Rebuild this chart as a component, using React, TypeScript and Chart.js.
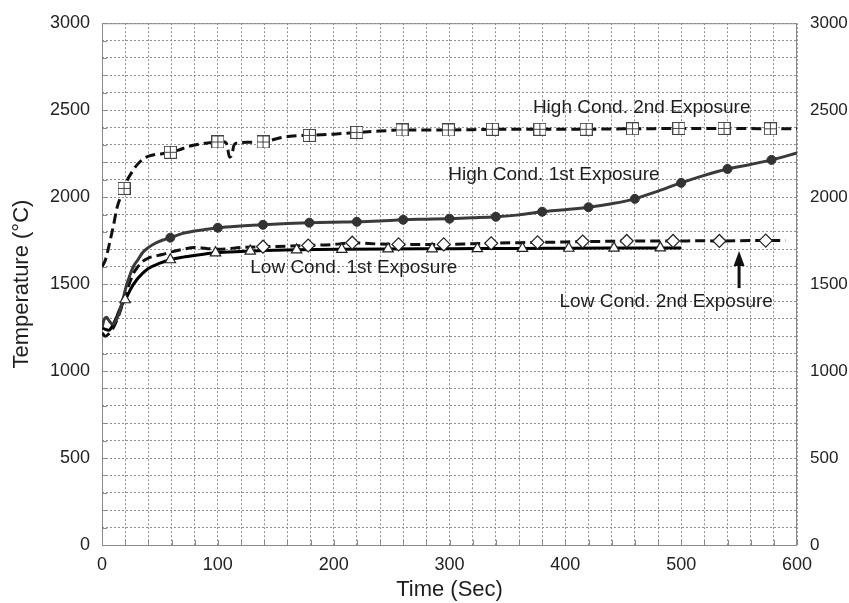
import { useEffect, useRef } from 'react';
import { Chart, registerables } from 'chart.js';

Chart.register(...registerables);

const FONT = "'Liberation Sans', Arial, Helvetica, sans-serif";

// Time (s) / temperature (°C) – High Cond. 2nd Exposure (dashed, square markers)
const high2X = [0, 3, 7, 10, 13, 16, 19, 22, 25, 29, 33, 37, 41, 46, 52, 59, 66, 74, 84, 92, 100, 105, 108, 110, 112, 114, 118, 125, 139, 153, 165, 179, 200, 220, 240, 259, 280, 299, 320, 337, 360, 378, 400, 418, 440, 458, 480, 498, 520, 537, 560, 577, 600];
const high2Y = [1600, 1640, 1750, 1840, 1940, 2000, 2050, 2100, 2135, 2175, 2205, 2225, 2237, 2245, 2250, 2258, 2270, 2290, 2305, 2312, 2317, 2318, 2300, 2230, 2240, 2300, 2312, 2315, 2317, 2340, 2352, 2355, 2362, 2372, 2380, 2386, 2386, 2386, 2388, 2390, 2390, 2390, 2390, 2390, 2392, 2393, 2394, 2395, 2395, 2395, 2394, 2393, 2393];
const high2MarkX = [19, 59, 100, 139, 179, 220, 259, 299, 337, 378, 418, 458, 498, 537, 577];
const high2MarkY = [2050, 2258, 2317, 2317, 2355, 2372, 2386, 2386, 2390, 2390, 2390, 2393, 2395, 2395, 2393];

// High Cond. 1st Exposure (solid, filled circles)
const high1X = [0, 2, 4, 6, 9, 12, 15, 18, 21, 24, 27, 31, 35, 40, 46, 52, 59, 69, 80, 90, 100, 120, 139, 160, 179, 200, 220, 240, 260, 280, 300, 320, 340, 360, 380, 400, 420, 440, 460, 480, 500, 520, 540, 560, 578, 600];
const high1Y = [1250, 1300, 1310, 1290, 1270, 1290, 1340, 1410, 1490, 1550, 1600, 1640, 1680, 1710, 1735, 1752, 1767, 1790, 1805, 1815, 1824, 1834, 1841, 1848, 1853, 1856, 1858, 1863, 1870, 1873, 1876, 1881, 1887, 1898, 1916, 1928, 1942, 1962, 1990, 2035, 2082, 2125, 2162, 2188, 2214, 2254];
const high1MarkX = [59, 100, 139, 179, 220, 260, 300, 340, 380, 420, 460, 500, 540, 578];
const high1MarkY = [1767, 1824, 1841, 1853, 1858, 1870, 1876, 1887, 1916, 1942, 1990, 2082, 2162, 2214];

// Low Cond. 1st Exposure (solid, open triangles)
const low1X = [0, 3, 6, 9, 12, 15, 18, 21, 25, 30, 35, 40, 50, 59, 70, 80, 98, 120, 140, 168, 207, 247, 285, 324, 363, 403, 442, 482, 500];
const low1Y = [1250, 1240, 1235, 1260, 1300, 1350, 1390, 1420, 1475, 1525, 1562, 1590, 1620, 1640, 1655, 1665, 1680, 1688, 1693, 1697, 1700, 1702, 1703, 1704, 1705, 1706, 1707, 1708, 1708];
const low1MarkX = [20, 59, 98, 128, 168, 207, 247, 285, 324, 363, 403, 442, 482];
const low1MarkY = [1410, 1640, 1680, 1690, 1697, 1700, 1702, 1703, 1704, 1705, 1706, 1707, 1708];

// Low Cond. 2nd Exposure (dashed, open diamonds)
const low2X = [0, 3, 6, 9, 12, 15, 18, 21, 24, 27, 31, 35, 40, 45, 52, 60, 70, 80, 90, 100, 120, 139, 160, 178, 200, 216, 240, 256, 280, 295, 320, 336, 360, 376, 400, 415, 440, 453, 480, 493, 520, 533, 560, 573, 590];
const low2Y = [1220, 1200, 1215, 1240, 1280, 1330, 1390, 1450, 1510, 1560, 1600, 1630, 1650, 1660, 1670, 1685, 1700, 1710, 1705, 1700, 1710, 1715, 1718, 1722, 1728, 1738, 1730, 1728, 1728, 1728, 1732, 1735, 1738, 1740, 1742, 1745, 1746, 1748, 1748, 1748, 1749, 1748, 1750, 1750, 1750];
const low2MarkX = [139, 178, 216, 256, 295, 336, 376, 415, 453, 493, 533, 573];
const low2MarkY = [1715, 1722, 1738, 1728, 1728, 1735, 1740, 1745, 1748, 1748, 1748, 1750];

// Axis tick labels
const xTickLabels = [0, 100, 200, 300, 400, 500, 600];
const yTickLabels = [0, 500, 1000, 1500, 2000, 2500, 3000];

// Annotations (data coordinates of text start, vertical centre)
const noteTexts = ['High Cond. 2nd Exposure', 'High Cond. 1st Exposure', 'Low Cond. 1st Exposure', 'Low Cond. 2nd Exposure'];
const noteX = [372, 299, 128, 395];
const noteY = [2513, 2130, 1592, 1397];
const arrowX = 550;
const arrowFromY = 1477;
const arrowToY = 1690;

const pts = (xs: number[], ys: number[]) => xs.map((x, i) => ({ x, y: ys[i] }));

function makeSquarePlus(): HTMLCanvasElement {
  const c = document.createElement('canvas');
  c.width = 13;
  c.height = 13;
  const g = c.getContext('2d')!;
  g.fillStyle = '#fff';
  g.fillRect(0.5, 0.5, 12, 12);
  g.strokeStyle = '#444';
  g.lineWidth = 1;
  g.strokeRect(0.5, 0.5, 12, 12);
  g.beginPath();
  g.moveTo(6.5, 0.5);
  g.lineTo(6.5, 12.5);
  g.moveTo(0.5, 6.5);
  g.lineTo(12.5, 6.5);
  g.stroke();
  return c;
}

export default function App() {
  const ref = useRef<HTMLCanvasElement | null>(null);

  useEffect(() => {
    document.body.style.margin = '0';
    const canvas = ref.current!;
    const sq = makeSquarePlus();

    const decor = {
      id: 'decor',
      beforeDatasetsDraw(chart: any) {
        const { ctx, chartArea: a, scales } = chart;
        ctx.save();
        ctx.strokeStyle = '#8a8a8a';
        ctx.lineWidth = 1;
        ctx.setLineDash([]);
        ctx.strokeRect(a.left + 0.5, a.top + 0.5, a.right - a.left - 1, a.bottom - a.top);
        ctx.beginPath();
        for (let v = 0; v <= 600; v += 20) {
          const px = Math.round(scales.x.getPixelForValue(v)) + 0.5;
          ctx.moveTo(px, a.bottom);
          ctx.lineTo(px, a.bottom - 5);
        }
        for (let v = 0; v <= 3000; v += 100) {
          const py = Math.round(scales.y.getPixelForValue(v)) + 0.5;
          ctx.moveTo(a.left, py);
          ctx.lineTo(a.left + 5, py);
        }
        ctx.stroke();
        ctx.restore();
      },
      afterDatasetsDraw(chart: any) {
        const { ctx, scales } = chart;
        ctx.save();
        ctx.fillStyle = '#1e1e1e';
        ctx.font = `19px ${FONT}`;
        ctx.textBaseline = 'middle';
        ctx.textAlign = 'left';
        noteTexts.forEach((t, i) => {
          ctx.fillText(t, scales.x.getPixelForValue(noteX[i]), scales.y.getPixelForValue(noteY[i]));
        });
        const ax = scales.x.getPixelForValue(arrowX);
        const y0 = scales.y.getPixelForValue(arrowFromY);
        const y1 = scales.y.getPixelForValue(arrowToY);
        ctx.strokeStyle = '#111';
        ctx.lineWidth = 3;
        ctx.beginPath();
        ctx.moveTo(ax, y0);
        ctx.lineTo(ax, y1 + 10);
        ctx.stroke();
        ctx.fillStyle = '#111';
        ctx.beginPath();
        ctx.moveTo(ax, y1);
        ctx.lineTo(ax - 5.5, y1 + 15);
        ctx.lineTo(ax + 5.5, y1 + 15);
        ctx.closePath();
        ctx.fill();
        ctx.restore();
      },
    };

    const lineBase = {
      pointRadius: 0,
      fill: false,
      cubicInterpolationMode: 'monotone' as const,
      borderWidth: 3,
    };
    const markBase = { showLine: false, pointHoverRadius: 0 };

    const chart = new Chart(canvas, {
      type: 'scatter',
      data: {
        datasets: [
          { ...markBase, label: 'h2m', data: pts(high2MarkX, high2MarkY), pointStyle: sq as any, pointRadius: 6 },
          { ...markBase, label: 'h1m', data: pts(high1MarkX, high1MarkY), pointStyle: 'circle', pointRadius: 4.5, backgroundColor: '#333', borderColor: '#333', borderWidth: 1 },
          { ...markBase, label: 'l1m', data: pts(low1MarkX, low1MarkY), pointStyle: 'triangle', pointRadius: 6, backgroundColor: '#fff', borderColor: '#222', borderWidth: 1.2 },
          { ...markBase, label: 'l2m', data: pts(low2MarkX, low2MarkY), pointStyle: 'rectRot', pointRadius: 6.5, backgroundColor: '#fff', borderColor: '#222', borderWidth: 1.2 },
          { ...lineBase, type: 'line', label: 'High Cond. 2nd Exposure', data: pts(high2X, high2Y), borderColor: '#111', borderDash: [10, 5] },
          { ...lineBase, type: 'line', label: 'High Cond. 1st Exposure', data: pts(high1X, high1Y), borderColor: '#3a3a3a' },
          { ...lineBase, type: 'line', label: 'Low Cond. 2nd Exposure', data: pts(low2X, low2Y), borderColor: '#111', borderDash: [10, 5] },
          { ...lineBase, type: 'line', label: 'Low Cond. 1st Exposure', data: pts(low1X, low1Y), borderColor: '#000' },
        ] as any,
      },
      options: {
        animation: false,
        responsive: false,
        maintainAspectRatio: false,
        layout: { padding: { top: 21, left: 0, right: 0, bottom: 0 } },
        plugins: { legend: { display: false }, tooltip: { enabled: false } },
        events: [],
        scales: {
          x: {
            type: 'linear',
            min: 0,
            max: 600,
            afterFit: (s: any) => { s.height = 58; },
            ticks: {
              stepSize: 20,
              autoSkip: false,
              maxRotation: 0,
              minRotation: 0,
              padding: 9,
              color: '#222',
              font: { family: FONT, size: 18 },
              callback: (v: any) => (xTickLabels.includes(Number(v)) ? String(v) : ''),
            },
            grid: { color: '#8f8f8f', lineWidth: 1, drawTicks: false },
            border: { display: false, dash: [2, 2] },
            title: { display: true, text: 'Time (Sec)', color: '#1e1e1e', font: { family: FONT, size: 22 }, padding: { top: 0, bottom: 0 } },
          },
          y: {
            type: 'linear',
            position: 'left',
            min: 0,
            max: 3000,
            afterFit: (s: any) => { s.width = 102; },
            ticks: {
              stepSize: 100,
              autoSkip: false,
              padding: 12,
              color: '#222',
              font: { family: FONT, size: 18 },
              callback: (v: any) => (yTickLabels.includes(Number(v)) ? String(v) : ''),
            },
            grid: { color: '#8f8f8f', lineWidth: 1, drawTicks: false },
            border: { display: false, dash: [2, 2] },
            title: { display: true, text: 'Temperature (°C)', color: '#1e1e1e', font: { family: FONT, size: 22 }, padding: { top: 9, bottom: 0 } },
          },
          y2: {
            type: 'linear',
            position: 'right',
            min: 0,
            max: 3000,
            afterFit: (s: any) => { s.width = 52; },
            ticks: {
              stepSize: 100,
              autoSkip: false,
              padding: 13,
              color: '#222',
              font: { family: FONT, size: 17 },
              callback: (v: any) => (yTickLabels.includes(Number(v)) ? String(v) : ''),
            },
            grid: { display: false, drawTicks: false },
            border: { display: false },
          },
        },
      } as any,
      plugins: [decor],
    });

    return () => chart.destroy();
  }, []);

  return (
    <div style={{ position: 'absolute', left: 0, top: 0, width: 849, height: 603 }}>
      <canvas ref={ref} width={849} height={603} style={{ display: 'block', width: 849, height: 603 }} />
    </div>
  );
}
